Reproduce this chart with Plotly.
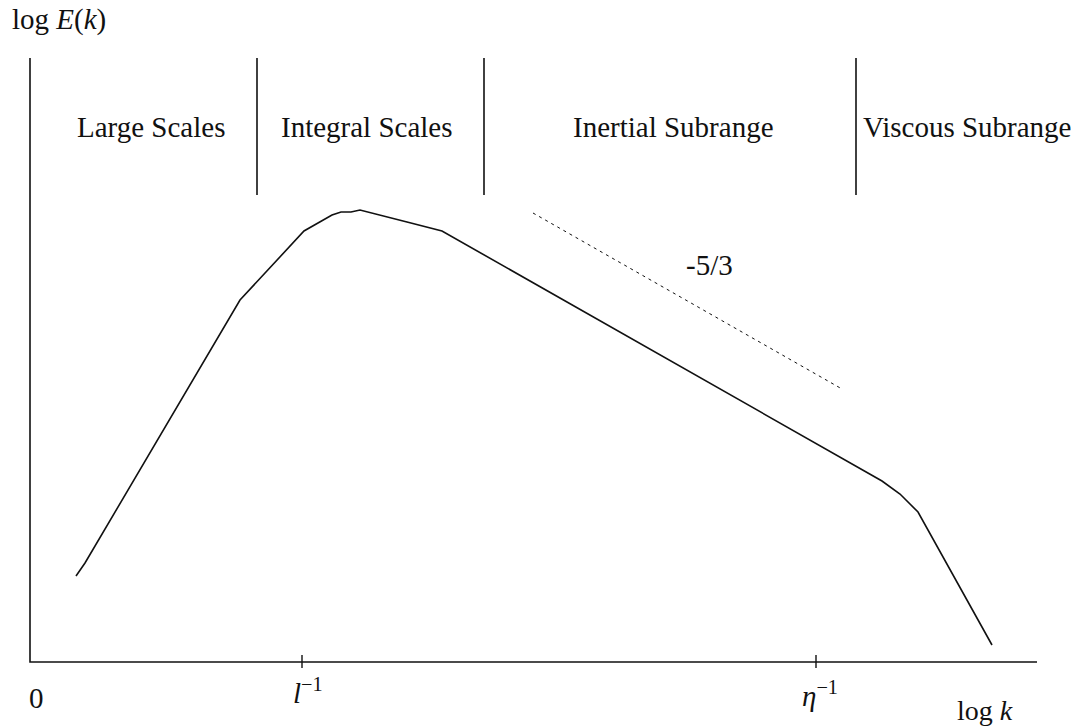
import plotly.graph_objects as go

# Spectrum curve (log k, log E), arbitrary units
curve_logk = [0.46, 0.55, 2.10, 2.74, 3.02, 3.11, 3.21, 3.30, 3.77, 4.12, 8.52, 8.70, 8.88, 9.23, 9.62]
curve_logE = [0.86, 0.99, 3.62, 4.31, 4.47, 4.50, 4.50, 4.52, 4.40, 4.31, 1.81, 1.68, 1.50, 0.87, 0.17]

# -5/3 reference slope line
slope_logk = [5.03, 8.12]
slope_logE = [4.49, 2.73]

# Axis extents
x_axis_end = 10.07
y_axis_end = 6.04

# Region separators
sep_logk = [2.27, 4.54, 8.26]
sep_bottom = 4.67

# Region labels
region_names = ["Large Scales", "Integral Scales", "Inertial Subrange", "Viscous Subrange"]
region_centers = [1.21, 3.37, 6.43, 9.37]
region_label_y = 5.35

# Tick marks
tick_pos = [2.72, 7.86]
tick_labels = ["<i>l</i><sup>−1</sup>", "<i>η</i><sup>−1</sup>"]

FONT = "Liberation Serif"
INK = "#111111"

fig = go.Figure()

# axes
fig.add_trace(go.Scatter(x=[0, 0, x_axis_end], y=[y_axis_end, 0, 0], mode="lines",
                         line=dict(color=INK, width=1.6), hoverinfo="skip", showlegend=False))
# curve
fig.add_trace(go.Scatter(x=curve_logk, y=curve_logE, mode="lines",
                         line=dict(color=INK, width=1.6), hoverinfo="skip", showlegend=False))
# slope line
fig.add_trace(go.Scatter(x=slope_logk, y=slope_logE, mode="lines",
                         line=dict(color=INK, width=1, dash="3px,4px"), hoverinfo="skip", showlegend=False))

# separators
for xs in sep_logk:
    fig.add_shape(type="line", x0=xs, x1=xs, y0=sep_bottom, y1=y_axis_end,
                  xref="x", yref="y", line=dict(color=INK, width=1.6))
# ticks
for xt in tick_pos:
    fig.add_shape(type="line", x0=xt, x1=xt, y0=-0.06, y1=0.07,
                  xref="x", yref="y", line=dict(color=INK, width=1.4))

ann = []
for name, xc in zip(region_names, region_centers):
    ann.append(dict(x=xc, y=region_label_y, text=name, showarrow=False,
                    font=dict(family=FONT, size=29, color=INK)))
ann.append(dict(x=0.285, y=6.43, text="log <i>E</i>(<i>k</i>)", showarrow=False,
                font=dict(family=FONT, size=29, color=INK)))
ann.append(dict(x=0.06, y=-0.36, text="0", showarrow=False,
                font=dict(family=FONT, size=29, color=INK)))
for xt, lbl, yy in zip([2.78, 7.90], tick_labels, [-0.29, -0.32]):
    ann.append(dict(x=xt, y=yy, text=lbl, showarrow=False,
                    font=dict(family=FONT, size=29, color=INK)))
ann.append(dict(x=9.55, y=-0.485, text="log <i>k</i>", showarrow=False,
                font=dict(family=FONT, size=28, color=INK)))
ann.append(dict(x=6.79, y=3.97, text="-5/3", showarrow=False,
                font=dict(family=FONT, size=29, color=INK)))

fig.update_layout(
    width=1076, height=726,
    margin=dict(l=0, r=0, t=0, b=0),
    paper_bgcolor="white", plot_bgcolor="white",
    font=dict(family=FONT),
    xaxis=dict(range=[-0.30, 10.46], visible=False, fixedrange=True),
    yaxis=dict(range=[-0.64, 6.62], visible=False, fixedrange=True),
    annotations=ann,
    showlegend=False,
)

fig.write_html("out.html")
